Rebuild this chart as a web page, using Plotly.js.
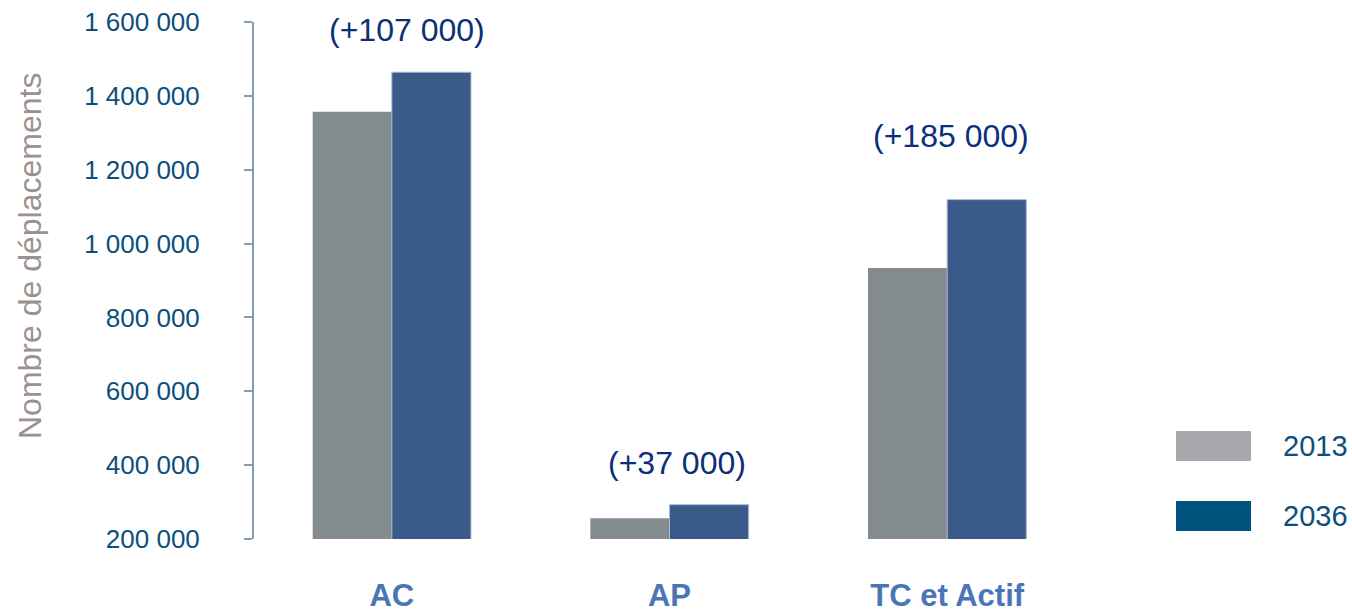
<!DOCTYPE html>
<html>
<head>
<meta charset="utf-8">
<script src="https://cdn.plot.ly/plotly-3.0.1.min.js"></script>
<style>html,body{margin:0;padding:0;background:#fff;}#chart{width:1352px;height:613px;}</style>
</head>
<body>
<div id="chart"></div>
<script>
const categories = ["AC", "AP", "TC et Actif"];
const values2013 = [1357000, 256000, 934000];
const values2036 = [1464000, 293000, 1119000];
const seriesNames = ["2013", "2036"];
const diffLabels = ["(+107 000)", "(+37 000)", "(+185 000)"];
const tickVals = [200000, 400000, 600000, 800000, 1000000, 1200000, 1400000, 1600000];
const tickText = ["200 000", "400 000", "600 000", "800 000", "1 000 000", "1 200 000", "1 400 000", "1 600 000"];

const FONT = "Liberation Sans, Arial, sans-serif";

const traces = [
  {type: "bar", name: seriesNames[0], x: categories, y: values2013,
   marker: {color: "#848b8e", line: {width: 0}}, showlegend: false, hoverinfo: "y"},
  {type: "bar", name: seriesNames[1], x: categories, y: values2036,
   marker: {color: "#3a5a8a", line: {width: 1, color: "#a9b9d6"}}, showlegend: false, hoverinfo: "y"}
];

const annX = [15, 7, 4];
const annPy = [30, 463, 136];
const ML = 253, MT = 22, MB = 74, MR = 266, H = 613;
const plotH = H - MT - MB;
const annotations = categories.map((c, i) => ({
  x: c, xref: "x", xshift: annX[i],
  y: (H - MB - annPy[i]) / plotH, yref: "paper",
  text: diffLabels[i], showarrow: false,
  font: {family: FONT, size: 32, color: "#0d2f7a"},
  xanchor: "center", yanchor: "middle"
}));

annotations.push({
  x: (30 - ML) / (1352 - ML - MR), xref: "paper",
  y: (H - MB - 256) / plotH, yref: "paper",
  text: "Nombre de déplacements", textangle: -90, showarrow: false,
  font: {family: FONT, size: 32, color: "#9b9191"},
  xanchor: "center", yanchor: "middle"
});

const plotW = 1352 - ML - MR;
const px = v => (v - ML) / plotW;
const py = v => (H - MB - v) / plotH;
const legendColors = ["#a7a9ac", "#00527d"];
const legendRows = [[431, 461], [501, 531]];
const shapes = legendRows.map((r, i) => ({
  type: "rect", xref: "paper", yref: "paper",
  x0: px(1176), x1: px(1251), y0: py(r[1]), y1: py(r[0]),
  fillcolor: legendColors[i], line: {width: 0}
}));
legendRows.forEach((r, i) => {
  annotations.push({
    x: px(1281), xref: "paper", y: py((r[0] + r[1]) / 2), yref: "paper",
    text: seriesNames[i], showarrow: false, xanchor: "left", yanchor: "middle",
    font: {family: FONT, size: 29, color: "#0d4f7c"}
  });
});

const layout = {
  width: 1352, height: 613,
  margin: {l: ML, r: MR, t: MT, b: MB, pad: 0},
  paper_bgcolor: "#ffffff", plot_bgcolor: "#ffffff",
  barmode: "group", bargap: 0.43, bargroupgap: 0,
  showlegend: false,
  font: {family: FONT},
  xaxis: {
    type: "category", showgrid: false, zeroline: false, showline: false, ticks: "",
    tickfont: {family: FONT, size: 31, color: "#4a76b8", weight: "bold"},
    ticklabelstandoff: 35
  },
  yaxis: {
    range: [200000, 1600000], showgrid: false, zeroline: false,
    anchor: "free", position: 0,
    showline: true, linecolor: "#8a9ab0", linewidth: 2,
    ticks: "outside", ticklen: 8, tickcolor: "#8a9ab0", tickwidth: 2,
    tickvals: tickVals, ticktext: tickText,
    tickfont: {family: FONT, size: 26, color: "#0d4f7c"},
    ticklabelstandoff: 39
  },
  annotations: annotations,
  shapes: shapes
};

Plotly.newPlot("chart", traces, layout, {displayModeBar: false, staticPlot: true});
</script>
</body>
</html>
